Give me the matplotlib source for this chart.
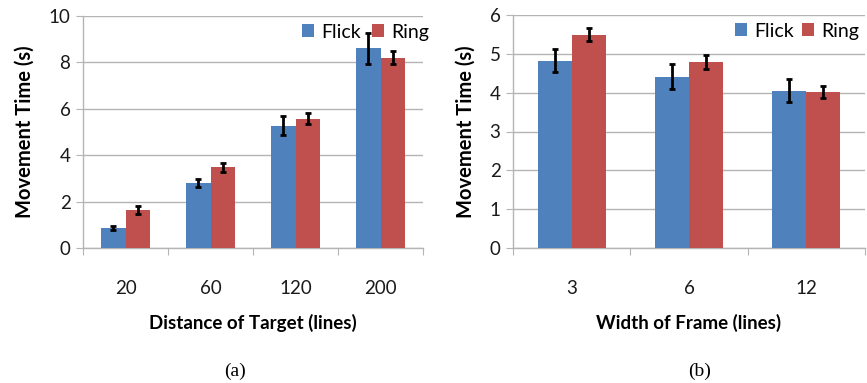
import matplotlib
matplotlib.use("Agg")
import matplotlib.pyplot as plt
import numpy as np

# panel (a): distance of target
distances = ["20", "60", "120", "200"]
flick_dist = [0.86, 2.8, 5.28, 8.6]
flick_dist_err = [0.09, 0.18, 0.39, 0.68]
ring_dist = [1.64, 3.48, 5.58, 8.2]
ring_dist_err = [0.16, 0.2, 0.25, 0.28]

# panel (b): width of frame
widths = ["3", "6", "12"]
flick_width = [4.82, 4.41, 4.05]
flick_width_err = [0.3, 0.32, 0.29]
ring_width = [5.49, 4.8, 4.01]
ring_width_err = [0.17, 0.18, 0.15]

BLUE = "#4F81BD"
RED = "#C0504D"
GRID = "#B4B4B4"
FONT = "Lato"

plt.rcParams["font.family"] = FONT


def drawPanel(ax, cats, flick, flick_err, ring, ring_err, ymax, xlabel, legend_anchor, colsp):
    x = np.arange(len(cats))
    w = 0.29
    err_kw = dict(ecolor="black", elinewidth=2, capsize=2.5, capthick=2)
    ax.bar(x - w / 2, flick, w, color=BLUE, yerr=flick_err, error_kw=err_kw, label="Flick", zorder=3)
    ax.bar(x + w / 2, ring, w, color=RED, yerr=ring_err, error_kw=err_kw, label="Ring", zorder=3)
    ax.set_xlim(-0.5, len(cats) - 0.5)
    ax.set_ylim(0, ymax)
    ax.set_yticks(np.arange(0, ymax + 1, 2 if ymax == 10 else 1))
    ax.yaxis.grid(True, color=GRID, linewidth=1, zorder=0)
    ax.set_axisbelow(True)
    for s in ["top", "right"]:
        ax.spines[s].set_visible(False)
    for s in ["left", "bottom"]:
        ax.spines[s].set_color(GRID)
        ax.spines[s].set_linewidth(1)
    # category labels sit between boundary ticks
    ax.set_xticks(np.arange(len(cats) + 1) - 0.5)
    ax.set_xticklabels([])
    ax.set_xticks(x, minor=True)
    ax.set_xticklabels(cats, minor=True, fontsize=13.5, color="#1a1a1a")
    ax.tick_params(axis="x", which="major", length=5, color=GRID, direction="out")
    ax.tick_params(axis="x", which="minor", length=0, pad=23)
    ax.tick_params(axis="y", length=5, color=GRID, labelsize=13.5, labelcolor="#1a1a1a", pad=4)
    ax.set_ylabel("Movement Time (s)", fontsize=14.5, fontweight="bold", labelpad=10)
    ax.set_xlabel(xlabel, fontsize=13.5, fontweight="bold", labelpad=12)
    ax.legend(loc="upper right", bbox_to_anchor=legend_anchor, ncol=2, frameon=False,
              fontsize=14, handlelength=0.65, handleheight=0.65, handletextpad=0.35,
              columnspacing=colsp, borderaxespad=0)


fig = plt.figure(figsize=(8.67, 3.83), dpi=100)
ax1 = fig.add_axes([83 / 867, 135 / 383, 340 / 867, 232 / 383])
ax2 = fig.add_axes([513 / 867, 135 / 383, 352 / 867, 233 / 383])

drawPanel(ax1, distances, flick_dist, flick_dist_err, ring_dist, ring_dist_err, 10,
          "Distance of Target (lines)", (1.04, 1.0), 0.55)
drawPanel(ax2, widths, flick_width, flick_width_err, ring_width, ring_width_err, 6,
          "Width of Frame (lines)", (1.005, 1.0), 0.4)

fig.text(235 / 867, 1 - 371 / 383, "(a)", family="Liberation Serif", fontsize=14,
         ha="center", va="center")
fig.text(700 / 867, 1 - 371 / 383, "(b)", family="Liberation Serif", fontsize=14,
         ha="center", va="center")

fig.savefig("out.png", dpi=100)
